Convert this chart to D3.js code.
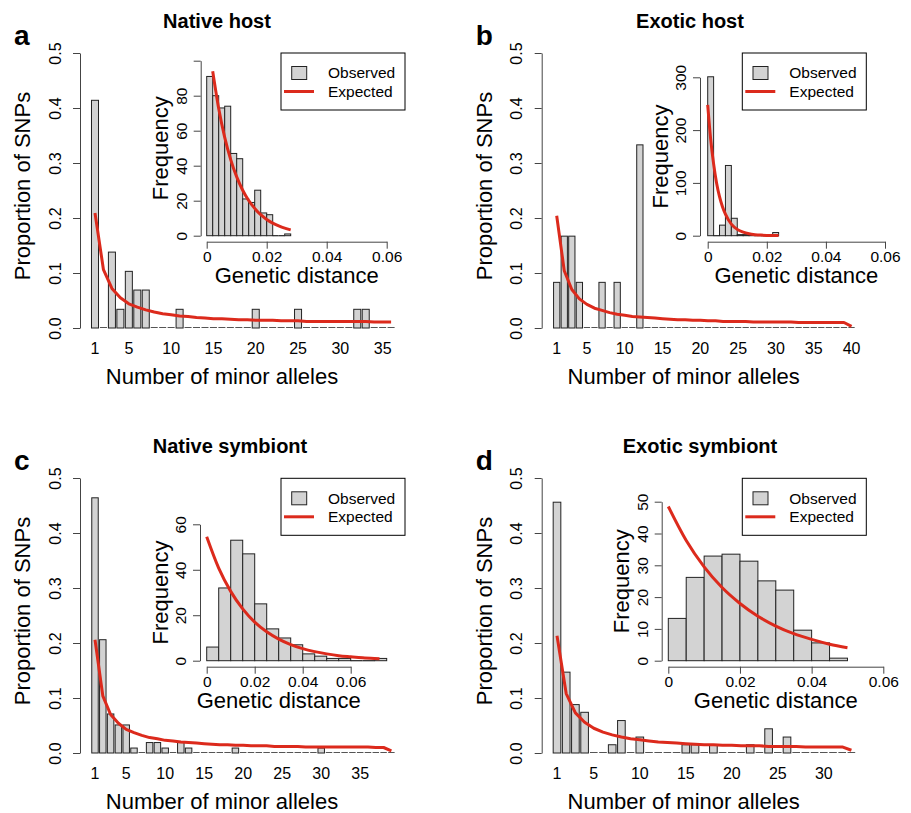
<!DOCTYPE html>
<html>
<head>
<meta charset="utf-8">
<script src="https://cdn.jsdelivr.net/npm/d3@7"></script>
<style>
body { margin: 0; background: #fff; }
svg text { font-family: "Liberation Sans", Arial, sans-serif; fill: #000; }
</style>
</head>
<body>
<script>
// panel labels
var titles = ["Native host", "Exotic host", "Native symbiont", "Exotic symbiont"];
var letters = ["a", "b", "c", "d"];

// site frequency spectra: proportion of SNPs for 1..N minor alleles
var nativeHostObs = [0.414,0,0.138,0.034,0.103,0.069,0.069,0,0,0, 0.034,0,0,0,0,0,0,0,0,0.034, 0,0,0,0,0.034,0,0,0,0,0, 0,0.034,0.034,0,0,0];
var nativeHostExp = [0.209,0.106,0.072,0.055,0.044,0.038,0.033,0.029,0.026,0.024, 0.022,0.021,0.019,0.018,0.017,0.017,0.016,0.015,0.015,0.014, 0.014,0.014,0.013,0.013,0.013,0.012,0.012,0.012,0.012,0.012, 0.012,0.012,0.012,0.011,0.011,0.011];
var nativeHostTicks = [1,5,10,15,20,25,30,35];

var exoticHostObs = [0.083,0.167,0.167,0.083,0,0,0.083,0,0.083,0, 0,0.333,0,0,0,0,0,0,0,0, 0,0,0,0,0,0,0,0,0,0, 0,0,0,0,0,0,0,0,0,0];
var exoticHostExp = [0.204,0.104,0.070,0.053,0.043,0.036,0.032,0.028,0.025,0.023, 0.021,0.020,0.019,0.018,0.017,0.016,0.015,0.015,0.014,0.014, 0.013,0.013,0.012,0.012,0.012,0.012,0.011,0.011,0.011,0.011, 0.011,0.011,0.010,0.010,0.010,0.010,0.010,0.010,0.010,0.003];
var exoticHostTicks = [1,5,10,15,20,25,30,35,40];

var nativeSymObs = [0.464,0.206,0.071,0.051,0.051,0.009,0,0.019,0.019,0.009, 0,0.019,0.009,0,0,0,0,0,0.009,0, 0,0,0,0,0,0,0,0,0,0.009, 0,0,0,0,0,0,0,0,0];
var nativeSymExp = [0.206,0.104,0.070,0.054,0.043,0.037,0.032,0.028,0.026,0.023, 0.022,0.020,0.019,0.018,0.017,0.016,0.015,0.015,0.014,0.014, 0.013,0.013,0.013,0.012,0.012,0.012,0.012,0.011,0.011,0.011, 0.011,0.011,0.011,0.011,0.011,0.011,0.010,0.010,0.004];
var nativeSymTicks = [1,5,10,15,20,25,30,35];

var exoticSymObs = [0.456,0.147,0.088,0.074,0,0,0.015,0.059,0,0.029, 0,0,0,0,0.015,0.015,0,0.015,0,0, 0,0.015,0,0.044,0,0.029,0,0,0,0, 0,0,0];
var exoticSymExp = [0.213,0.108,0.073,0.056,0.045,0.038,0.033,0.029,0.026,0.024, 0.022,0.020,0.019,0.018,0.017,0.016,0.015,0.015,0.014,0.014, 0.013,0.013,0.013,0.012,0.012,0.012,0.012,0.011,0.011,0.011, 0.011,0.011,0.005];
var exoticSymTicks = [1,5,10,15,20,25,30];

var sfsYTicks = [0, 0.1, 0.2, 0.3, 0.4, 0.5];

// genetic distance histograms (insets)
var nativeHostDist = [91,80,73,74,47,44,21,19,26,13,12,0,0,1];        // bins of 0.002
var nativeHostCurveX = [0.002,0.004,0.006,0.008,0.010,0.012,0.014,0.016,0.018,0.020,0.022,0.024,0.026,0.028];
var nativeHostCurveY = [94,72.7,56.2,43.5,33.6,26,20.1,15.6,12,9.3,7.2,5.6,4.3,3.3];

var exoticHostDist = [301,0,20,133,33,2,2,1,1,0,0,6];                  // bins of 0.002
var exoticHostCurveX = [0,0.001,0.002,0.003,0.004,0.005,0.006,0.008,0.010,0.012,0.014,0.016,0.018,0.020,0.022,0.024];
var exoticHostCurveY = [248,183,136,100,74,55,41,22,12,6.6,3.6,2,1.1,0.6,0.3,0.2];

var nativeSymDist = [6,32,53,47,25,14,10,7,3,2,1,1,0,0,1];             // bins of 0.005
var nativeSymCurveX = [0,0.005,0.010,0.015,0.020,0.025,0.030,0.035,0.040,0.045,0.050,0.055,0.060,0.065,0.070,0.072];
var nativeSymCurveY = [54.5,40.7,30.5,22.8,17,12.7,9.5,7.1,5.3,4,3,2.2,1.7,1.25,0.95,0.85];

var exoticSymDist = [13.3,26.2,32.9,33.5,31.3,25.1,22.2,9.6,5.6,0.8];  // bins of 0.005
var exoticSymCurveX = [0,0.005,0.010,0.015,0.020,0.025,0.030,0.035,0.040,0.045,0.050];
var exoticSymCurveY = [48.5,37.8,29.5,23,18,14,10.9,8.5,6.7,5.2,4.1];

var distXTicks = [0, 0.02, 0.04, 0.06];
var legendLabels = ["Observed", "Expected"];

var RED = "#dc2a1c", GREY = "#d3d3d3";

var svg = d3.select("body").append("svg")
    .attr("width", 911)
    .attr("height", 813);

// layout of the four panels
var panels = [
  { obs: nativeHostObs, exp: nativeHostExp, ticks: nativeHostTicks, ax: 80, y0: 328, c1: 95, step: 8.46, titleX: 217,
    dist: nativeHostDist, bin: 0.002, cx: nativeHostCurveX, cy: nativeHostCurveY,
    iax: 200.7, iy0: 235.7, ymax: 100, iytop: 60.7, ix0: 206.7, ix1: 386.7, yt: [0,20,40,60,80,100], hideTop: true, lx: 281, ly: 53 },
  { obs: exoticHostObs, exp: exoticHostExp, ticks: exoticHostTicks, ax: 541.7, y0: 328, c1: 556.7, step: 7.56, titleX: 690,
    dist: exoticHostDist, bin: 0.002, cx: exoticHostCurveX, cy: exoticHostCurveY,
    iax: 700, iy0: 235.7, ymax: 300, iytop: 77.3, ix0: 707.7, ix1: 885, yt: [0,100,200,300], lx: 742.3, ly: 53 },
  { obs: nativeSymObs, exp: nativeSymExp, ticks: nativeSymTicks, ax: 80, y0: 753, c1: 95, step: 7.8, titleX: 230,
    dist: nativeSymDist, bin: 0.005, cx: nativeSymCurveX, cy: nativeSymCurveY,
    iax: 200, iy0: 660.7, ymax: 60, iytop: 524.3, ix0: 206.7, ix1: 350.7, yt: [0,20,40,60], lx: 281, ly: 478.3 },
  { obs: exoticSymObs, exp: exoticSymExp, ticks: exoticSymTicks, ax: 541.7, y0: 753, c1: 557, step: 9.2, titleX: 700,
    dist: exoticSymDist, bin: 0.005, cx: exoticSymCurveX, cy: exoticSymCurveY,
    iax: 661.7, iy0: 660.7, ymax: 50, iytop: 501.7, ix0: 668.3, ix1: 883.3, yt: [0,10,20,30,40,50], lx: 742.3, ly: 478.3 }
];

panels.forEach(function(p, k) {
    var g = svg.append("g");
    var n = p.obs.length;

    // ---- main barplot ----
    var x = d3.scaleBand()
        .domain(d3.range(1, n + 1))
        .range([p.c1 - p.step / 2, p.c1 - p.step / 2 + n * p.step])
        .paddingInner(0.17)
        .paddingOuter(0.085);
    var y = d3.scaleLinear().domain([0, 0.5]).range([p.y0, p.y0 - 275]);

    var slots = p.obs.map(function(v, i) { return { i: i + 1, v: v }; });

    // zero bars show up as dashes along the baseline
    g.selectAll("line.zero")
        .data(slots.filter(function(d) { return d.v === 0; }))
        .enter().append("line")
        .attr("x1", function(d) { return x(d.i); })
        .attr("x2", function(d) { return x(d.i) + x.bandwidth(); })
        .attr("y1", p.y0 - 0.5).attr("y2", p.y0 - 0.5)
        .style("stroke", "#555").style("stroke-width", 1);

    g.selectAll("rect.bar")
        .data(slots.filter(function(d) { return d.v > 0; }))
        .enter().append("rect")
        .attr("x", function(d) { return x(d.i); })
        .attr("y", function(d) { return y(d.v); })
        .attr("width", x.bandwidth())
        .attr("height", function(d) { return p.y0 - y(d.v); })
        .style("fill", GREY).style("stroke", "#222").style("stroke-width", 1);

    var line = d3.line()
        .x(function(d, i) { return x(i + 1) + x.bandwidth() / 2; })
        .y(function(d) { return y(d); });
    g.append("path").datum(p.exp)
        .attr("d", line)
        .style("fill", "none").style("stroke", RED).style("stroke-width", 3)
        .style("stroke-linejoin", "round");

    var yAxis = g.append("g")
        .attr("transform", "translate(" + p.ax + ",0)")
        .call(d3.axisLeft(y).tickValues(sfsYTicks).tickFormat(d3.format(".1f")).tickSize(7).tickSizeOuter(0));
    yAxis.select(".domain").style("stroke", "#444");
    yAxis.selectAll(".tick line").style("stroke", "#444");
    yAxis.selectAll("text")
        .attr("transform", "rotate(-90)")
        .attr("x", 0).attr("y", -25).attr("dy", "0.35em")
        .attr("text-anchor", "middle")
        .style("font-size", "16px").style("font-family", "Liberation Sans, Arial, sans-serif");

    g.selectAll("text.xt")
        .data(p.ticks)
        .enter().append("text")
        .attr("x", function(d) { return x(d) + x.bandwidth() / 2; })
        .attr("y", p.y0 + 20).attr("dy", "0.35em")
        .attr("text-anchor", "middle")
        .style("font-size", "16px")
        .text(function(d) { return d; });

    g.append("text")
        .attr("x", p.ax + 142).attr("y", p.y0 + 48).attr("dy", "0.35em")
        .attr("text-anchor", "middle").style("font-size", "22px")
        .text("Number of minor alleles");
    g.append("text")
        .attr("transform", "translate(" + (p.ax - 57.5) + "," + (p.y0 - 142) + ") rotate(-90)")
        .attr("dy", "0.35em")
        .attr("text-anchor", "middle").style("font-size", "22px")
        .text("Proportion of SNPs");
    g.append("text")
        .attr("x", p.titleX).attr("y", p.y0 - 300)
        .attr("text-anchor", "middle").style("font-size", "20px").style("font-weight", "bold")
        .text(titles[k]);
    g.append("text")
        .attr("x", p.ax - 66).attr("y", p.y0 - 283)
        .style("font-size", "28px").style("font-weight", "bold")
        .text(letters[k]);

    // ---- inset histogram ----
    var ix = d3.scaleLinear().domain([0, 0.06]).range([p.ix0, p.ix1]);
    var iy = d3.scaleLinear().domain([0, p.ymax]).range([p.iy0, p.iytop]);
    var bins = p.dist.map(function(v, i) { return { a: i * p.bin, b: (i + 1) * p.bin, v: v }; });

    g.selectAll("rect.hist")
        .data(bins.filter(function(d) { return d.v > 0; }))
        .enter().append("rect")
        .attr("x", function(d) { return ix(d.a); })
        .attr("y", function(d) { return iy(d.v); })
        .attr("width", function(d) { return ix(d.b) - ix(d.a); })
        .attr("height", function(d) { return p.iy0 - iy(d.v); })
        .style("fill", GREY).style("stroke", "#222").style("stroke-width", 1);
    g.selectAll("line.hz")
        .data(bins.filter(function(d) { return d.v === 0; }))
        .enter().append("line")
        .attr("x1", function(d) { return ix(d.a); })
        .attr("x2", function(d) { return ix(d.b); })
        .attr("y1", p.iy0).attr("y2", p.iy0)
        .style("stroke", "#222").style("stroke-width", 1.2);

    var curve = d3.line()
        .x(function(d, i) { return ix(p.cx[i]); })
        .y(function(d) { return iy(d); })
        .curve(d3.curveMonotoneX);
    g.append("path").datum(p.cy)
        .attr("d", curve)
        .style("fill", "none").style("stroke", RED).style("stroke-width", 3);

    var iyAxis = g.append("g")
        .attr("transform", "translate(" + p.iax + ",0)")
        .call(d3.axisLeft(iy).tickValues(p.yt).tickSize(7).tickSizeOuter(0));
    iyAxis.selectAll("text")
        .attr("transform", "rotate(-90)")
        .attr("x", 0).attr("y", -19).attr("dy", "0.35em")
        .attr("text-anchor", "middle")
        .style("font-size", "15.5px").style("font-family", "Liberation Sans, Arial, sans-serif")
        .text(function(d) { return (p.hideTop && d === p.ymax) ? "" : d; });

    var ixAxis = g.append("g")
        .attr("transform", "translate(0," + (p.iy0 + 6) + ")")
        .call(d3.axisBottom(ix).tickValues(distXTicks).tickFormat(function(d) { return d === 0 ? "0" : d3.format(".2f")(d); }).tickSize(7).tickSizeOuter(0));
    ixAxis.selectAll("text")
        .attr("y", 15).attr("dy", "0.35em")
        .style("font-size", "15.5px").style("font-family", "Liberation Sans, Arial, sans-serif");
    [iyAxis, ixAxis].forEach(function(a) {
        a.select(".domain").style("stroke", "#444");
        a.selectAll(".tick line").style("stroke", "#444");
    });

    g.append("text")
        .attr("x", (p.ix0 + ix(0.06)) / 2).attr("y", p.iy0 + 40).attr("dy", "0.35em")
        .attr("text-anchor", "middle").style("font-size", "22px")
        .text("Genetic distance");
    g.append("text")
        .attr("transform", "translate(" + (p.iax - 40) + "," + ((p.iy0 + p.iytop) / 2) + ") rotate(-90)")
        .attr("dy", "0.35em")
        .attr("text-anchor", "middle").style("font-size", "22px")
        .text("Frequency");

    // ---- legend ----
    var lg = g.append("g").attr("transform", "translate(" + p.lx + "," + p.ly + ")");
    lg.append("rect").attr("width", 124).attr("height", 57)
        .style("fill", "#fff").style("stroke", "#000").style("stroke-width", 1);
    lg.append("rect").attr("x", 10.7).attr("y", 13.5).attr("width", 15).attr("height", 13)
        .style("fill", GREY).style("stroke", "#222").style("stroke-width", 1);
    lg.append("line").attr("x1", 3).attr("x2", 33).attr("y1", 38.5).attr("y2", 38.5)
        .style("stroke", RED).style("stroke-width", 3);
    lg.selectAll("text.lt").data(legendLabels).enter().append("text")
        .attr("x", 47).attr("y", function(d, i) { return 20 + i * 18.5; })
        .attr("dy", "0.35em").style("font-size", "15.5px")
        .text(function(d) { return d; });
});
</script>
</body>
</html>
